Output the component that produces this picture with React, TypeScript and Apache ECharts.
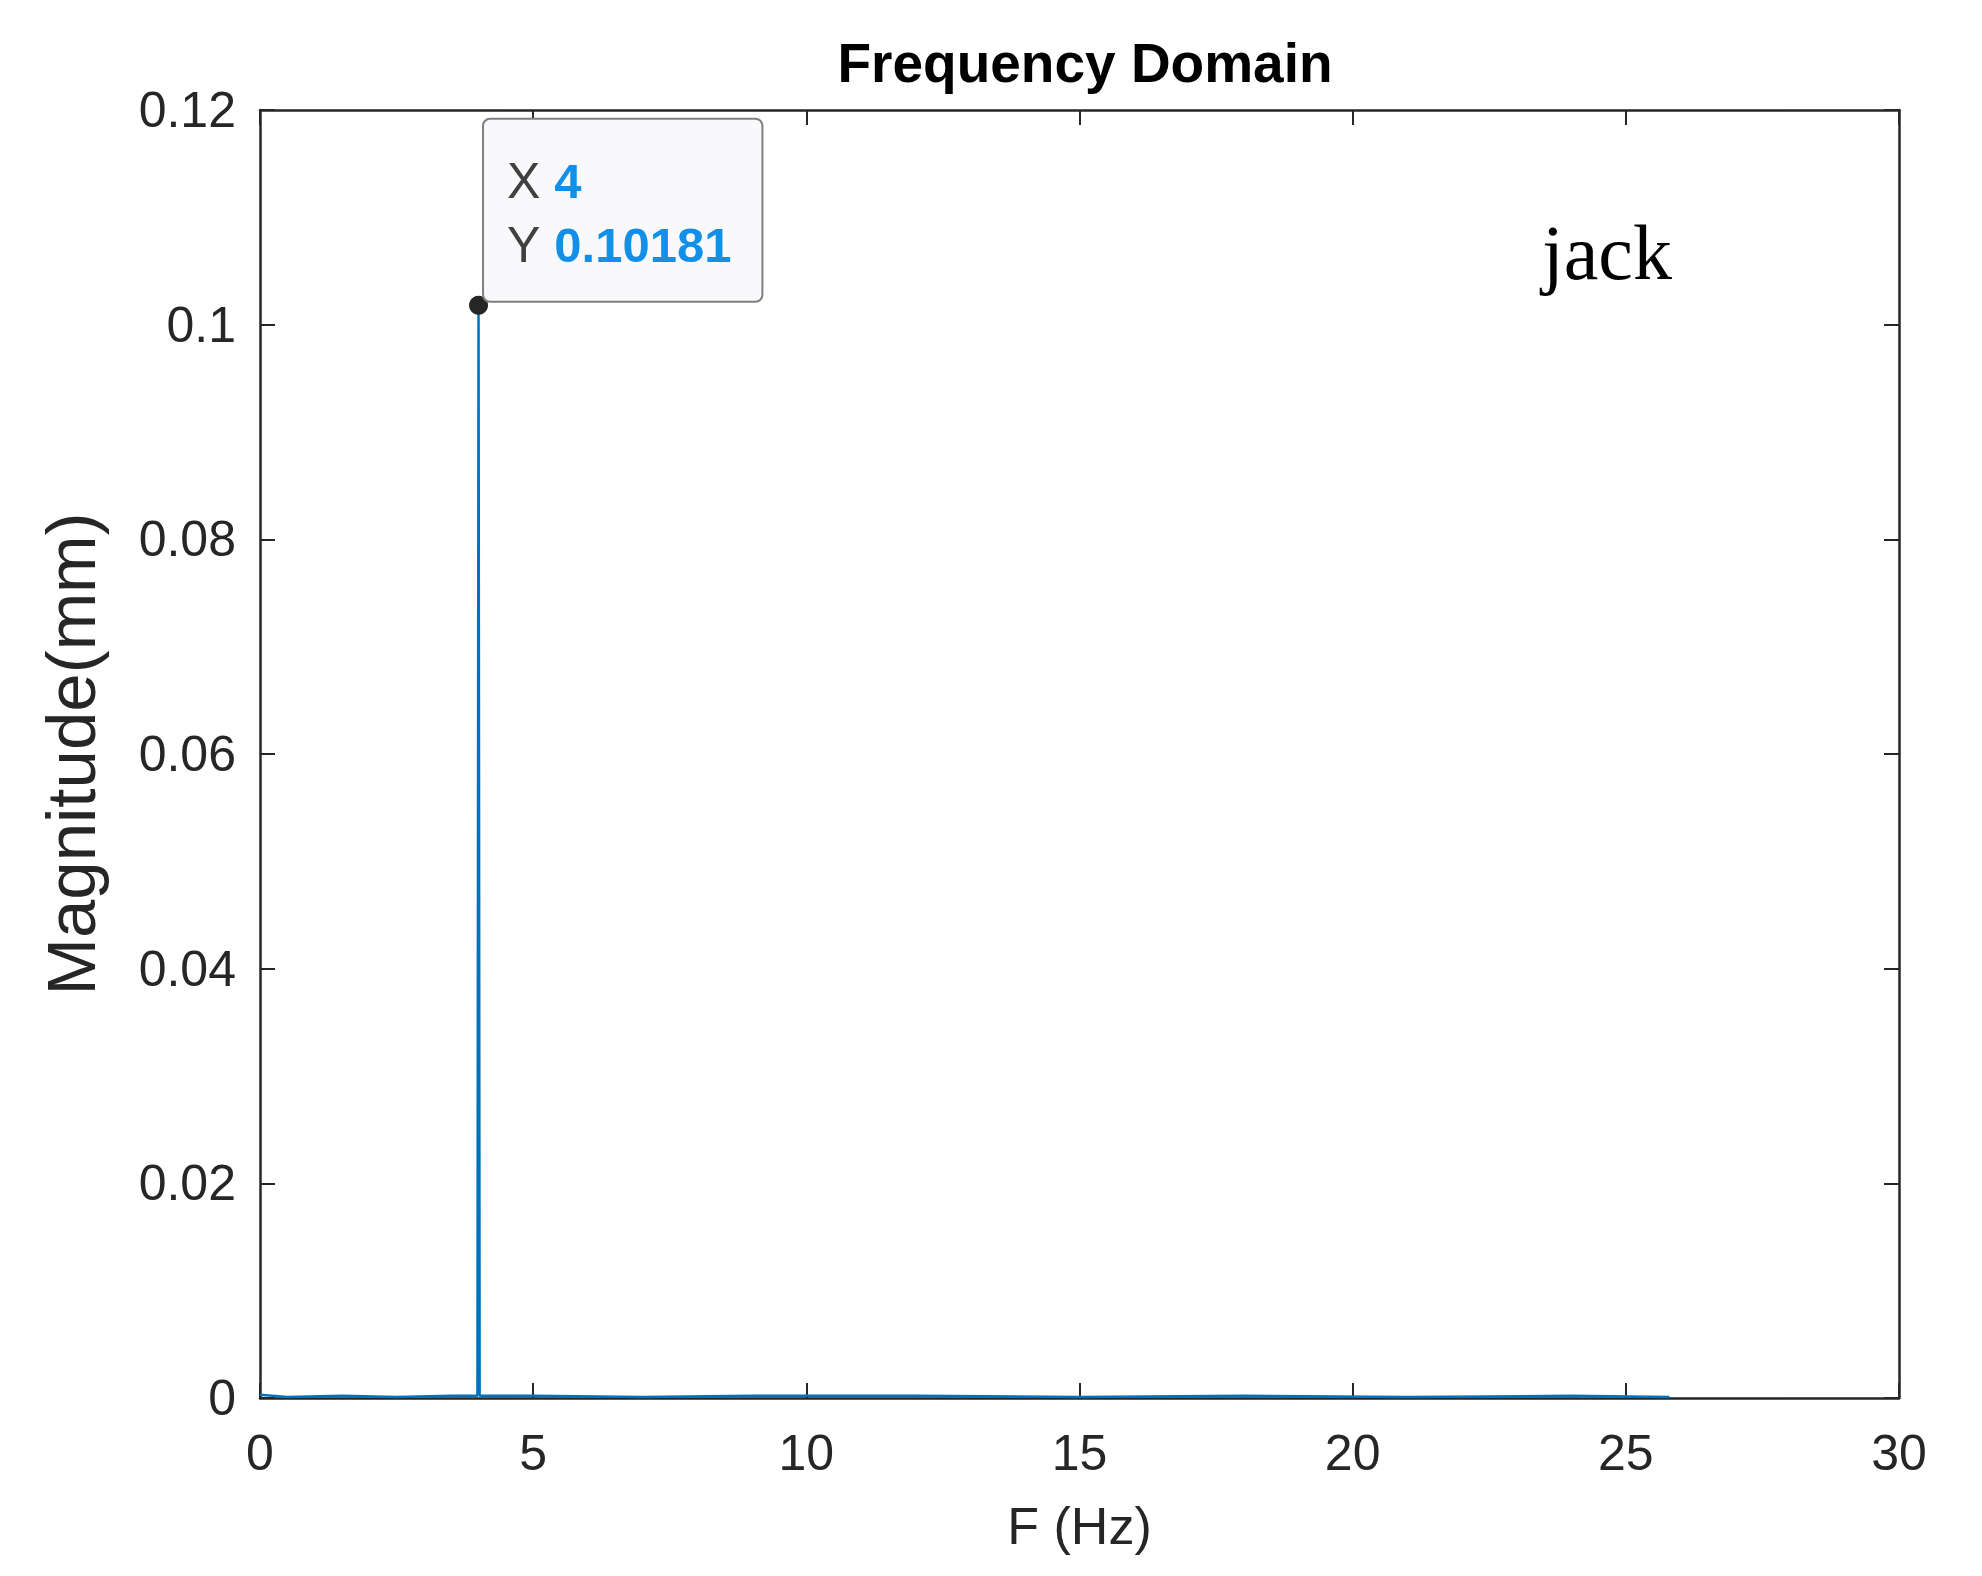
import React, { useEffect, useRef } from "react";
import * as echarts from "echarts";

const chartTitle = "Frequency Domain";
const xAxisName = "F (Hz)";
const yAxisName = "Magnitude(mm)";
const cornerNote = "jack";

const freqHz = [0, 0.5, 1.5, 2.5, 3.5, 3.98, 4, 4.02, 5, 7, 9, 12, 15, 18, 21, 24, 25.8];
const magnitudeMm = [0.0003, 0.0001, 0.0002, 0.0001, 0.0002, 0.0002, 0.10181, 0.0002, 0.0002, 0.0001, 0.0002, 0.0002, 0.0001, 0.0002, 0.0001, 0.0002, 0.0001];

const xTicks = [0, 5, 10, 15, 20, 25, 30];
const yTicks = [0, 0.02, 0.04, 0.06, 0.08, 0.1, 0.12];

const FONT = "'Liberation Sans', Arial, Helvetica, sans-serif";
const AX = "#262626";

export default function App() {
  const ref = useRef<HTMLDivElement>(null);
  useEffect(() => {
    document.body.style.margin = "0";
    document.body.style.overflow = "hidden";
    if (!ref.current) return;
    const chart = echarts.init(ref.current, undefined, { renderer: "svg" });

    let peakIdx = 0;
    magnitudeMm.forEach((v, i) => {
      if (v > magnitudeMm[peakIdx]) peakIdx = i;
    });
    const peakX = freqHz[peakIdx];
    const peakY = magnitudeMm[peakIdx];

    const xMin = xTicks[0];
    const xMax = xTicks[xTicks.length - 1];
    const xInt = xTicks[1] - xTicks[0];
    const yMin = yTicks[0];
    const yMax = yTicks[yTicks.length - 1];
    const yInt = yTicks[1] - yTicks[0];

    const axisLine = { show: true, onZero: false, lineStyle: { color: AX, width: 2.5 } };
    const axisTick = { show: true, inside: true, length: 15, lineStyle: { color: AX, width: 2 } };

    const fmtY = (v: number) => (v === 0 ? "0" : String(parseFloat(v.toFixed(4))));

    chart.setOption({
      animation: false,
      backgroundColor: "#ffffff",
      title: {
        text: chartTitle,
        left: 1080,
        textAlign: "center",
        top: 30,
        textStyle: { fontFamily: FONT, fontSize: 55, fontWeight: "bold", color: "#000000" },
      },
      grid: { left: 260, right: 83, top: 110, bottom: 178, containLabel: false },
      xAxis: [
        {
          type: "value",
          position: "bottom",
          min: xMin,
          max: xMax,
          interval: xInt,
          axisLine,
          axisTick,
          splitLine: { show: false },
          axisLabel: { fontFamily: FONT, fontSize: 50, color: AX, margin: 30 },
          name: xAxisName,
          nameLocation: "middle",
          nameGap: 102,
          nameTextStyle: { fontFamily: FONT, fontSize: 52, color: AX },
        },
        {
          type: "value",
          position: "top",
          min: xMin,
          max: xMax,
          interval: xInt,
          axisLine,
          axisTick,
          splitLine: { show: false },
          axisLabel: { show: false },
        },
      ],
      yAxis: [
        {
          type: "value",
          position: "left",
          min: yMin,
          max: yMax,
          interval: yInt,
          axisLine,
          axisTick,
          splitLine: { show: false },
          axisLabel: { fontFamily: FONT, fontSize: 50, color: AX, margin: 24, formatter: fmtY },
          name: yAxisName,
          nameLocation: "middle",
          nameGap: 154,
          nameTextStyle: { fontFamily: FONT, fontSize: 69, color: AX },
        },
        {
          type: "value",
          position: "right",
          min: yMin,
          max: yMax,
          interval: yInt,
          axisLine,
          axisTick,
          splitLine: { show: false },
          axisLabel: { show: false },
        },
      ],
      graphic: [
        {
          type: "text",
          x: 1542,
          y: 252,
          style: {
            text: cornerNote,
            fill: "#000000",
            font: "78px 'Liberation Serif', 'Times New Roman', serif",
            textAlign: "left",
            textVerticalAlign: "middle",
          },
        },
      ],
      series: [
        {
          type: "line",
          xAxisIndex: 0,
          yAxisIndex: 0,
          data: freqHz.map((f, i) => [f, magnitudeMm[i]]),
          showSymbol: false,
          lineStyle: { color: "#0072BD", width: 2.5 },
          itemStyle: { color: "#0072BD" },
          markPoint: {
            silent: true,
            symbol: "circle",
            symbolSize: 19,
            itemStyle: { color: "#262626" },
            data: [{ coord: [peakX, peakY] }],
            label: {
              show: true,
              position: [15, 5],
              align: "left",
              verticalAlign: "bottom",
              formatter: () => `{k|X }{v|${peakX}}\n{k|Y }{v|${peakY}}`,
              backgroundColor: "#F9F9FC",
              borderColor: "#7F7F7F",
              borderWidth: 2,
              borderRadius: 6,
              padding: [29, 30, 24, 23],
              lineHeight: 64,
              rich: {
                k: { fontFamily: FONT, fontSize: 50, color: "#404040", lineHeight: 64 },
                v: { fontFamily: FONT, fontSize: 49, fontWeight: "bold", color: "#1290E8", lineHeight: 64 },
              },
            },
          },
        },
      ],
    });
    return () => chart.dispose();
  }, []);
  return <div ref={ref} style={{ width: 1982, height: 1576 }} />;
}
